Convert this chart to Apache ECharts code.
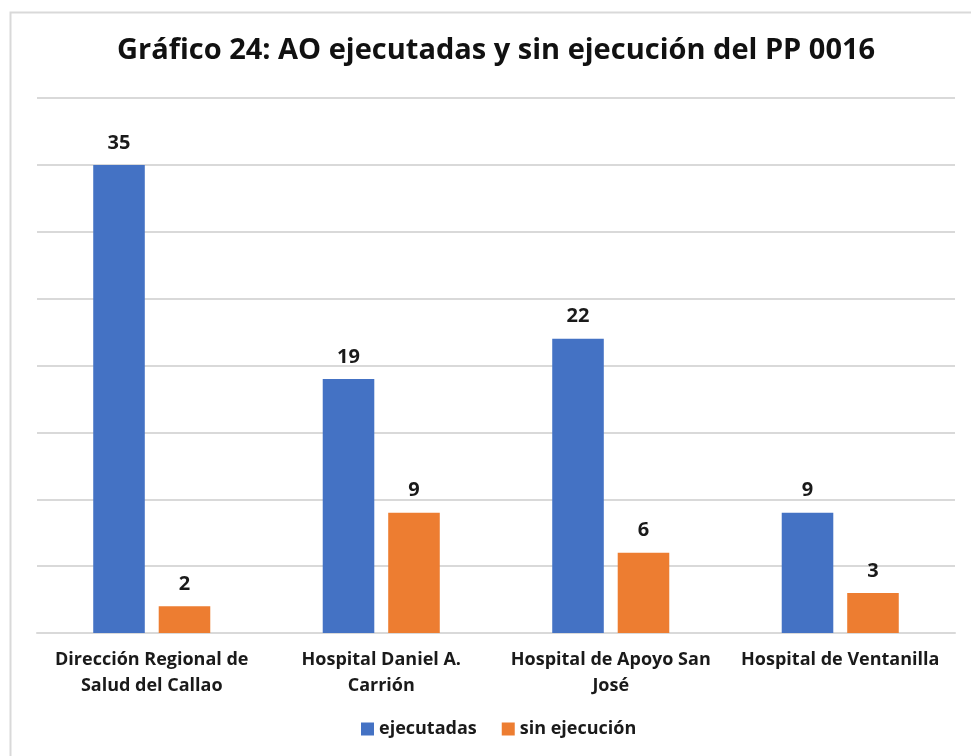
<!DOCTYPE html>
<html>
<head>
<meta charset="utf-8">
<script src="https://cdn.jsdelivr.net/npm/echarts@6/dist/echarts.min.js"></script>
<style>
  html, body { margin: 0; padding: 0; background: #fff; }
  #chart { width: 971px; height: 756px; }
</style>
</head>
<body>
<div id="chart"></div>
<script>
const categories = [
	"Dirección Regional de\nSalud del Callao",
	"Hospital Daniel A.\nCarrión",
	"Hospital de Apoyo San\nJosé",
	"Hospital de Ventanilla"
];
const ejecutadas = [35, 19, 22, 9];
const sinEjecucion = [2, 9, 6, 3];

const font = "Open Sans";
const labelStyle = {
	show: true,
	position: "top",
	distance: 12,
	color: "#1a1a1a",
	fontFamily: font,
	fontWeight: "bold",
	fontSize: 20
};

const chart = echarts.init(document.getElementById("chart"));
chart.setOption({
	animation: false,
	backgroundColor: "#fff",
	title: {
		text: "Gráfico 24: AO ejecutadas y sin ejecución del PP 0016",
		left: 117,
		top: 36,
		padding: 0,
		textStyle: { fontFamily: font, fontWeight: "bold", fontSize: 29, color: "#111" }
	},
	graphic: [{
		type: "rect",
		shape: { x: 10.5, y: 12.5, width: 980, height: 760 },
		style: { fill: "none", stroke: "#d9d9d9", lineWidth: 2 }
	}],
	legend: {
		bottom: 13,
		left: 356,
		itemWidth: 13,
		itemHeight: 13,
		itemGap: 25,
		icon: "rect",
		textStyle: { fontFamily: font, fontWeight: "bold", fontSize: 18, color: "#1a1a1a" },
		data: ["ejecutadas", "sin ejecución"]
	},
	grid: { left: 37, right: 16, top: 98, bottom: 123 },
	xAxis: {
		type: "category",
		data: categories,
		axisTick: { show: false },
		axisLine: { lineStyle: { color: "#d9d9d9", width: 2 } },
		axisLabel: {
			margin: 14,
			lineHeight: 26,
			color: "#1a1a1a",
			fontFamily: font,
			fontWeight: "bold",
			fontSize: 18,
			interval: 0
		}
	},
	yAxis: {
		type: "value",
		min: 0,
		max: 40,
		interval: 5,
		axisLabel: { show: false },
		axisLine: { show: false },
		splitLine: { lineStyle: { color: "#d9d9d9", width: 2 } }
	},
	series: [
		{
			name: "ejecutadas",
			type: "bar",
			data: ejecutadas,
			barGap: "27%",
			barCategoryGap: "49%",
			itemStyle: { color: "#4472c4" },
			label: labelStyle
		},
		{
			name: "sin ejecución",
			type: "bar",
			data: sinEjecucion,
			itemStyle: { color: "#ed7d31" },
			label: labelStyle
		}
	]
});
</script>
</body>
</html>
